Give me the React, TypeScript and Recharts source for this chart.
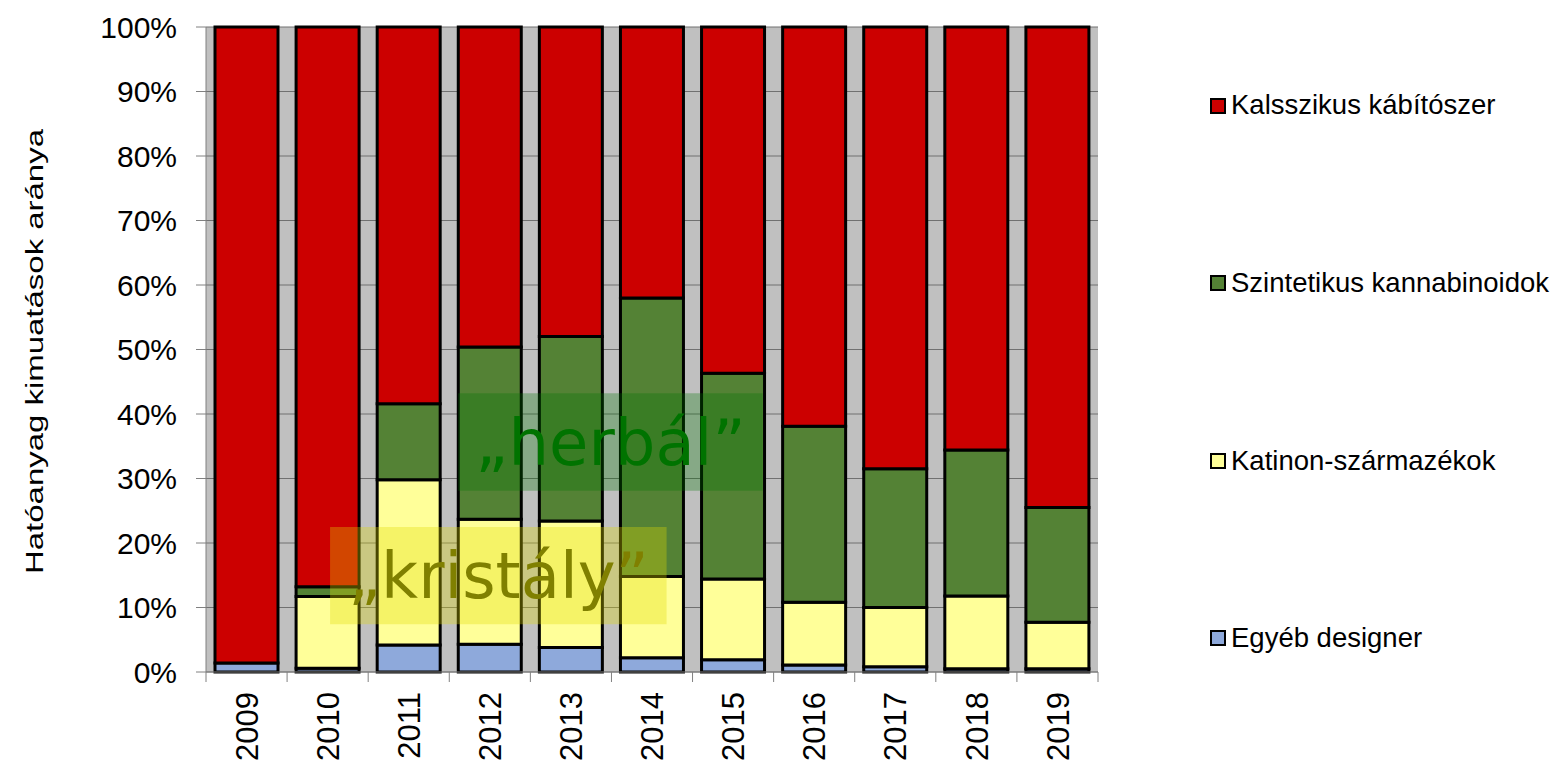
import React from 'react';
import { BarChart, LineChart, Bar, XAxis, YAxis, CartesianGrid, ReferenceArea, Label, Legend } from 'recharts';

const categories = ['2009', '2010', '2011', '2012', '2013', '2014', '2015', '2016', '2017', '2018', '2019'];
const egyebDesigner = [1.4, 0.6, 4.2, 4.3, 3.8, 2.2, 1.9, 1.1, 0.8, 0.5, 0.5];
const katinon = [0, 11.1, 25.6, 19.4, 19.6, 12.6, 12.5, 9.7, 9.2, 11.3, 7.2];
const szintetikus = [0, 1.5, 11.8, 26.7, 28.6, 43.2, 31.9, 27.3, 21.5, 22.6, 17.8];
const klasszikus = [98.6, 86.8, 58.4, 49.6, 48.0, 42.0, 53.7, 61.9, 68.5, 65.6, 74.5];
const yTicks = [0, 10, 20, 30, 40, 50, 60, 70, 80, 90, 100];

const seriesNames = ['Egyéb designer', 'Katinon-származékok', 'Szintetikus kannabinoidok', 'Kalsszikus kábítószer'];
const seriesKeys = ['egyeb', 'katinon', 'szint', 'klassz'];
const seriesColors = ['#8EA9DB', '#FFFF99', '#548235', '#CC0000'];

const yLabelText = 'Hatóanyag kimuatások aránya';
const herbalText = '„herbál”';
const kristalyText = '„kristály”';

// annotation boxes in (category-position, percent) units
const herbalBox = { x1: 3.11, x2: 6.865, y1: 28.1, y2: 43.2 };
const kristalyBox = { x1: 1.53, x2: 5.68, y1: 7.4, y2: 22.5 };

const data = categories.map((c, i) => ({
  year: c,
  egyeb: egyebDesigner[i],
  katinon: katinon[i],
  szint: szintetikus[i],
  klassz: klasszikus[i],
}));

const overlayData = [
  { pos: 0, pct: 0 },
  { pos: categories.length, pct: 100 },
];

const W = 1560;
const H = 762;
const LEFT = 206;
const RIGHT_M = 462;
const TOP = 27;
const XH = 90;
const PLOT_W = W - LEFT - RIGHT_M;
const BAND = PLOT_W / categories.length;
const FONT = '"Liberation Sans", Arial, sans-serif';
const DEJAVU = '"DejaVu Sans", Verdana, sans-serif';

const XTick = (props: any) => {
  const { x, y, payload, index } = props;
  const half = BAND / 2;
  const last = index === categories.length - 1;
  return (
    <g>
      <line x1={x - half} x2={x - half} y1={y} y2={y + 10} stroke="#808080" strokeWidth={1} />
      {last && <line x1={x + half} x2={x + half} y1={y} y2={y + 10} stroke="#808080" strokeWidth={1} />}
      <text
        transform={`translate(${x},${y + 20}) rotate(-90)`}
        textAnchor="end"
        dy="0.36em"
        fontSize={31}
        fontFamily={FONT}
        fill="#000"
      >
        {payload.value}
      </text>
    </g>
  );
};

const YLabel = (props: any) => {
  const vb = props.viewBox || { x: 0, y: TOP, width: LEFT, height: H - TOP - XH };
  const cy = vb.y + vb.height / 2 + 2;
  return (
    <text
      transform={`translate(43,${cy}) rotate(-90)`}
      textAnchor="middle"
      fontSize={23}
      fontFamily={FONT}
      fill="#000"
      textLength={445}
      lengthAdjust="spacingAndGlyphs"
    >
      {yLabelText}
    </text>
  );
};

const legendCenters = [105, 282.5, 460.8, 637.5];

const LegendContent = () => {
  const order = [3, 2, 1, 0];
  return (
    <div style={{ position: 'relative', width: 0, height: 0 }}>
      {order.map((si, k) => (
        <div
          key={seriesKeys[si]}
          style={{
            position: 'absolute',
            left: 0,
            top: legendCenters[k] - 20,
            height: 40,
            display: 'flex',
            alignItems: 'center',
            whiteSpace: 'nowrap',
          }}
        >
          <span
            style={{
              display: 'inline-block',
              width: 12,
              height: 12,
              background: seriesColors[si],
              border: '2px solid #000',
              marginRight: 5,
              marginTop: 1,
            }}
          />
          <span style={{ fontFamily: FONT, fontSize: 27.5, color: '#000', lineHeight: '40px' }}>{seriesNames[si]}</span>
        </div>
      ))}
    </div>
  );
};

export default function App() {
  return (
    <div style={{ position: 'absolute', left: 0, top: 0, width: W, height: H, background: '#fff' }}>
      <BarChart
        width={W}
        height={H}
        data={data}
        margin={{ top: TOP, right: RIGHT_M, bottom: 0, left: 0 }}
        barSize={63}
      >
        <CartesianGrid vertical={false} stroke="#707070" strokeWidth={1} fill="#C0C0C0" fillOpacity={1} />
        <XAxis
          dataKey="year"
          type="category"
          height={XH}
          interval={0}
          tickLine={false}
          tickSize={0}
          tickMargin={0}
          axisLine={{ stroke: '#808080' }}
          tick={<XTick />}
        />
        <YAxis
          type="number"
          domain={[0, 100]}
          ticks={yTicks}
          interval={0}
          width={LEFT}
          tickSize={10}
          tickMargin={19}
          tickFormatter={(v: number) => `${v}%`}
          tick={{ fontSize: 30, fill: '#000', fontFamily: FONT }}
          axisLine={{ stroke: '#808080' }}
          tickLine={{ stroke: '#808080' }}
          label={<YLabel />}
        />
        <Legend
          content={<LegendContent />}
          wrapperStyle={{ position: 'absolute', left: 1210, top: 0, width: 0, height: 0 }}
        />
        {seriesKeys.map((k, i) => (
          <Bar
            key={k}
            dataKey={k}
            name={seriesNames[i]}
            stackId="a"
            fill={seriesColors[i]}
            stroke="#000"
            strokeWidth={3}
            isAnimationActive={false}
          />
        ))}
      </BarChart>
      <div style={{ position: 'absolute', left: 0, top: 0, pointerEvents: 'none' }}>
        <LineChart
          width={W}
          height={H}
          data={overlayData}
          margin={{ top: TOP, right: RIGHT_M, bottom: XH, left: LEFT }}
        >
          <XAxis xAxisId="num" dataKey="pos" type="number" domain={[0, categories.length]} allowDataOverflow hide />
          <YAxis yAxisId="pct" dataKey="pct" type="number" domain={[0, 100]} allowDataOverflow hide />
          <ReferenceArea
            xAxisId="num"
            yAxisId="pct"
            x1={herbalBox.x1}
            x2={herbalBox.x2}
            y1={herbalBox.y1}
            y2={herbalBox.y2}
            fill="#007300"
            fillOpacity={0.3}
            stroke="none"
            ifOverflow="visible"
          >
            <Label value={herbalText} position="center" fill="#007300" fontSize={64} fontFamily={DEJAVU} />
          </ReferenceArea>
          <ReferenceArea
            xAxisId="num"
            yAxisId="pct"
            x1={kristalyBox.x1}
            x2={kristalyBox.x2}
            y1={kristalyBox.y1}
            y2={kristalyBox.y2}
            fill="#E0DA00"
            fillOpacity={0.32}
            stroke="none"
            ifOverflow="visible"
          >
            <Label value={kristalyText} position="center" fill="#808000" fontSize={64} fontFamily={DEJAVU} />
          </ReferenceArea>
        </LineChart>
      </div>
    </div>
  );
}
